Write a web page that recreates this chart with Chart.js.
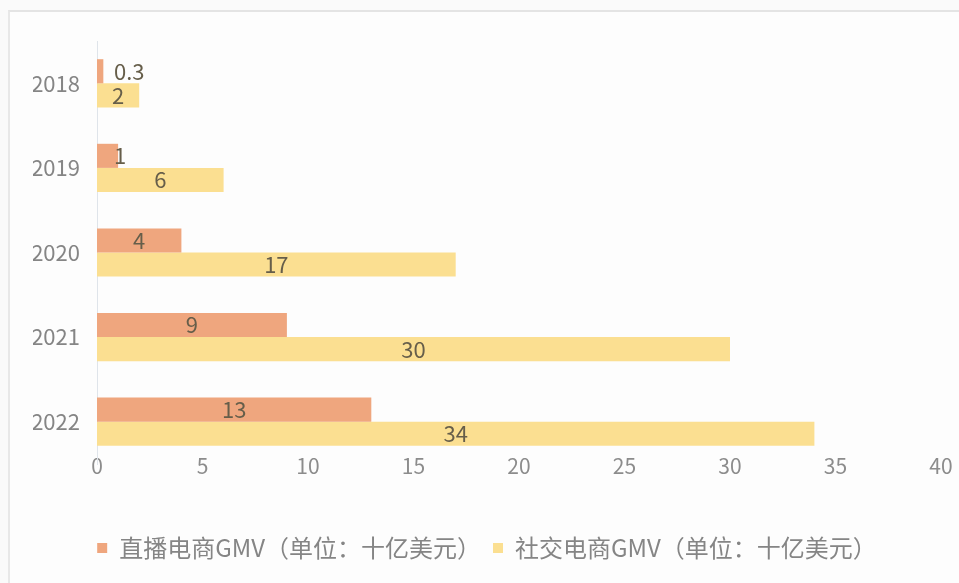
<!DOCTYPE html>
<html lang="zh">
<head>
  <meta charset="UTF-8">
  <title>直播电商与社交电商GMV</title>
  <script src="https://cdn.jsdelivr.net/npm/chart.js"></script>
  <style>
    html, body { margin: 0; padding: 0; background: #fafafa; }
    #wrap { position: relative; width: 959px; height: 583px; }
    #panel {
      position: absolute; left: 8px; top: 10px; right: 0; bottom: 0;
      background: #fdfdfd;
      border-top: 2px solid #e4e4e4; border-left: 2px solid #e8e8e8;
    }
    #gmvChart { position: absolute; left: 0; top: 0; }
  </style>
</head>
<body>
  <div id="wrap">
    <div id="panel"></div>
    <canvas id="gmvChart" width="959" height="583"></canvas>
  </div>

  <script>
    const years = ['2018', '2019', '2020', '2021', '2022'];
    const liveGmv = [0.3, 1, 4, 9, 13];
    const socialGmv = [2, 6, 17, 30, 34];
    const xTicks = [0, 5, 10, 15, 20, 25, 30, 35, 40];

    const fontFamily = '"Noto Sans CJK SC", "Noto Sans", sans-serif';

    // 数值标签：柱子够宽就居中，太短就放在柱子右侧
    const barLabels = {
      id: 'barLabels',
      afterDatasetsDraw(chart) {
        const ctx = chart.ctx;
        ctx.save();
        ctx.font = '22px ' + fontFamily;
        ctx.fillStyle = '#665e4a';
        ctx.textBaseline = 'middle';
        chart.data.datasets.forEach((ds, i) => {
          chart.getDatasetMeta(i).data.forEach((bar, j) => {
            const text = String(ds.data[j]);
            const w = ctx.measureText(text).width;
            const len = bar.x - bar.base;
            if (len > w + 10) {
              ctx.textAlign = 'center';
              ctx.fillText(text, (bar.x + bar.base) / 2, bar.y);
            } else {
              ctx.textAlign = 'left';
              ctx.fillText(text, bar.base + 17, bar.y);
            }
          });
        });
        ctx.restore();
      }
    };

    new Chart(document.getElementById('gmvChart'), {
      type: 'bar',
      data: {
        labels: years,
        datasets: [
          {
            label: '直播电商GMV（单位：十亿美元）',
            data: liveGmv,
            backgroundColor: '#efa67e'
          },
          {
            label: '社交电商GMV（单位：十亿美元）',
            data: socialGmv,
            backgroundColor: '#fbdf91'
          }
        ]
      },
      options: {
        indexAxis: 'y',
        responsive: false,
        animation: false,
        categoryPercentage: 0.57,
        barPercentage: 1,
        layout: { padding: { top: 41, left: 33, right: 18, bottom: 13 } },
        scales: {
          x: {
            min: 0,
            max: 40,
            afterBuildTicks: s => { s.ticks = xTicks.map(v => ({ value: v })); },
            afterFit: s => { s.height = 60; },
            grid: { display: false, drawTicks: false },
            border: { display: false },
            ticks: {
              // mirror 时刻度文字不受坐标轴区域裁剪，负 padding 让它贴着柱区下沿
              mirror: true,
              padding: -15,
              color: '#8c8c8c',
              font: { family: fontFamily, size: 21 }
            }
          },
          y: {
            afterFit: s => { s.width = 64; },
            grid: { display: false, drawTicks: false },
            border: { display: true, color: '#dfe4ea', width: 1 },
            ticks: {
              padding: 17,
              color: '#858585',
              font: { family: fontFamily, size: 22 }
            }
          }
        },
        plugins: {
          legend: {
            position: 'bottom',
            labels: {
              boxWidth: 10,
              boxHeight: 10,
              padding: 12,
              color: '#858585',
              font: { family: fontFamily, size: 24 }
            }
          },
          tooltip: { enabled: false }
        }
      },
      plugins: [barLabels]
    });
  </script>
</body>
</html>
